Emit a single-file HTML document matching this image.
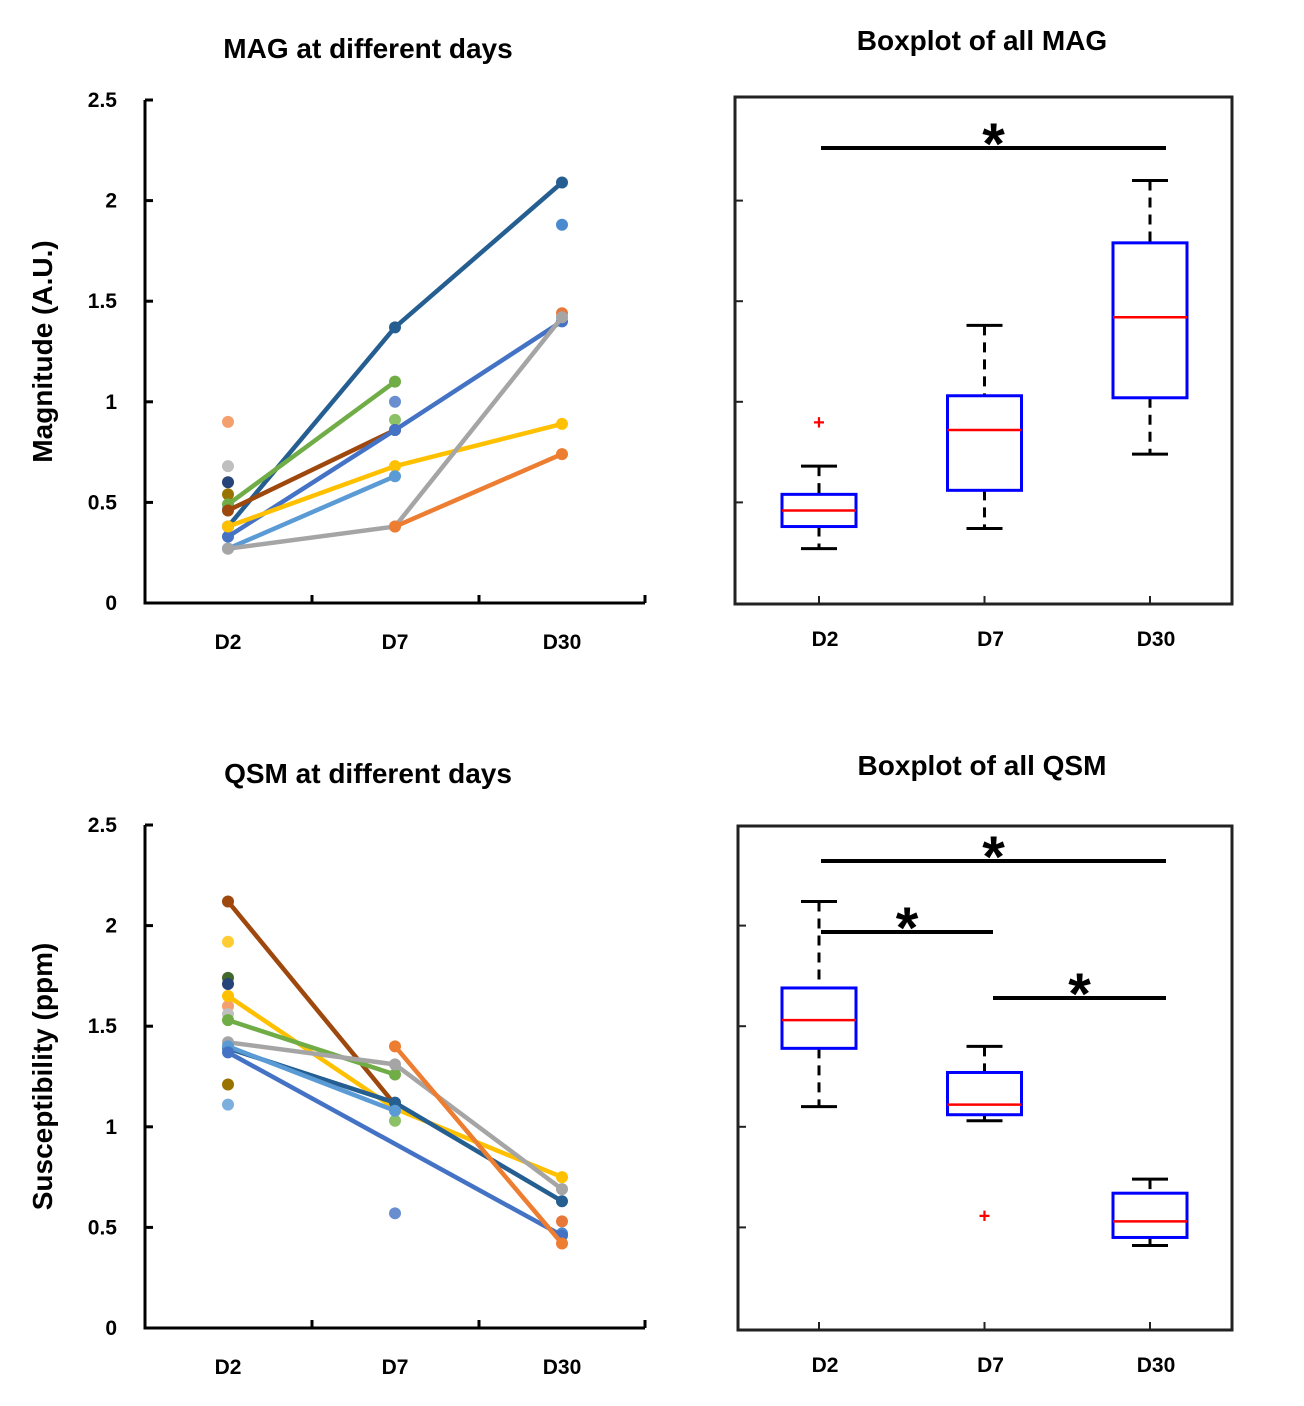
<!DOCTYPE html>
<html><head><meta charset="utf-8"><style>
body{margin:0;background:#fff;}
svg{display:block;font-family:"Liberation Sans",sans-serif;font-weight:bold;}
</style></head><body>
<svg id="c" width="1304" height="1406"></svg>
<script>
const days=["D2","D7","D30"];
const yTicks=[0,0.5,1,1.5,2,2.5];
const yTickLabels=["0","0.5","1","1.5","2","2.5"];
const magColors=["#255e91","#70ad47","#9e480e","#4472c4","#ffc000","#5b9bd5","#a5a5a5","#ed7d31"];
const magD2=[0.38,0.49,0.46,0.33,0.38,0.27,0.27,null];
const magD7=[1.37,1.10,0.86,0.86,0.68,0.63,0.38,0.38];
const magD30=[2.09,null,null,1.40,0.89,null,1.42,0.74];
const magExtraDay=[0,0,0,0,0,1,1,2,2];
const magExtraVal=[0.90,0.68,0.60,0.54,0.47,1.00,0.91,1.88,1.44];
const magExtraCol=["#f4a06e","#bfbfbf","#264478","#997300","#7cafdd","#698ed0","#8cc168","#4a8bd0","#e8783a"];
const qsmColors=["#9e480e","#ffc000","#70ad47","#a5a5a5","#255e91","#5b9bd5","#4472c4","#ed7d31"];
const qsmD2=[2.12,1.65,1.53,1.42,1.39,1.40,1.37,null];
const qsmD7=[1.11,1.09,1.26,1.31,1.12,1.08,null,1.40];
const qsmD30=[null,0.75,null,0.69,0.63,null,0.46,0.42];
const qsmExtraDay=[0,0,0,0,0,0,0,1,1,2,2];
const qsmExtraVal=[1.92,1.74,1.71,1.60,1.56,1.21,1.11,0.57,1.03,0.53,0.47];
const qsmExtraCol=["#ffcd33","#43682b","#264478","#f4a06e","#bfbfbf","#997300","#7cafdd","#698ed0","#8cc168","#e8783a","#4a8bd0"];
const magBoxLo=[0.27,0.37,0.74],magBoxQ1=[0.38,0.56,1.02],magBoxMed=[0.46,0.86,1.42],magBoxQ3=[0.54,1.03,1.79],magBoxHi=[0.68,1.38,2.10];
const magOutDay=[0],magOutVal=[0.90];
const qsmBoxLo=[1.10,1.03,0.41],qsmBoxQ1=[1.39,1.06,0.45],qsmBoxMed=[1.53,1.11,0.53],qsmBoxQ3=[1.69,1.27,0.67],qsmBoxHi=[2.12,1.40,0.74];
const qsmOutDay=[1],qsmOutVal=[0.56];

const NS="http://www.w3.org/2000/svg",svg=document.getElementById('c');
function el(t,a,txt){const e=document.createElementNS(NS,t);for(const k in a)e.setAttribute(k,a[k]);if(txt!=null)e.textContent=txt;svg.appendChild(e);return e;}
function text(x,y,s,size,anchor,name,rot){const e=el('text',{x:x,y:y,'font-size':size,'text-anchor':anchor||'middle',fill:'#000'},s);if(rot)e.setAttribute('transform',`rotate(-90 ${x} ${y})`);

return e;}

function lineChart(y0,title,ytitle,cols,d2,d7,d30,exD,exV,exC,pref){
  const X=i=>228+i*167, Y=v=>y0-v*201.2;
  text(368,y0-545,title,28,'middle',pref+'-title');
  text(52,Y(1.25),ytitle,28,'middle',pref+'-y-axis-title',true);
  let a=el('path',{d:`M145 ${Y(2.5)}V${y0}H645`,stroke:'#000','stroke-width':3,fill:'none'});
  
  yTicks.forEach((v,i)=>{const t=el('line',{x1:145,x2:153,y1:Y(v),y2:Y(v),stroke:'#000','stroke-width':3});
    
    text(117,Y(v)+7,yTickLabels[i],21,'end','y-tick-label');});
  [312,479,645].forEach(x=>{const t=el('line',{x1:x,x2:x,y1:y0,y2:y0-8,stroke:'#000','stroke-width':3});});
  days.forEach((d,i)=>text(X(i),y0+46,d,21,'middle','x-tick-label'));
  exD.forEach((d,i)=>{const c=el('circle',{cx:X(d),cy:Y(exV[i]),r:6,fill:exC[i]});
    });
  cols.forEach((c,i)=>{const vals=[d2[i],d7[i],d30[i]];const pts=[];vals.forEach((v,j)=>{if(v!=null)pts.push([X(j),Y(v)]);});
    const p=el('polyline',{points:pts.map(p=>p.join(',')).join(' '),stroke:c,'stroke-width':4.5,fill:'none'});
    
    pts.forEach(q=>{const m=el('circle',{cx:q[0],cy:q[1],r:6,fill:c});
      });});
}
function boxChart(y0,fx0,fy0,fx1,fy1,title,ty,lo,q1,md,q3,hi,oD,oV,sig,pref){
  const X=i=>819+i*165.5, Y=v=>y0-v*201.2;
  text(982,ty,title,28,'middle',pref+'-title');
  const f=el('rect',{x:fx0,y:fy0,width:fx1-fx0,height:fy1-fy0,fill:'none',stroke:'#222','stroke-width':3});
  
  [0.5,1,1.5,2].forEach(v=>{const t=el('line',{x1:fx0,x2:fx0+8,y1:Y(v),y2:Y(v),stroke:'#222','stroke-width':2});});
  days.forEach((d,i)=>{const t=el('line',{x1:X(i),x2:X(i),y1:fy1,y2:fy1-8,stroke:'#222','stroke-width':2});
    text(X(i)+6,fy1+42,d,21,'middle','x-tick-label');
    const g=[];
    g.push(el('line',{x1:X(i),x2:X(i),y1:Y(hi[i]),y2:Y(q3[i]),stroke:'#000','stroke-width':3,'stroke-dasharray':'10,7'}));
    g.push(el('line',{x1:X(i),x2:X(i),y1:Y(q1[i]),y2:Y(lo[i]),stroke:'#000','stroke-width':3,'stroke-dasharray':'10,7'}));
    g.push(el('line',{x1:X(i)-18,x2:X(i)+18,y1:Y(hi[i]),y2:Y(hi[i]),stroke:'#000','stroke-width':3}));
    g.push(el('line',{x1:X(i)-18,x2:X(i)+18,y1:Y(lo[i]),y2:Y(lo[i]),stroke:'#000','stroke-width':3}));
    g.forEach(e=>{});
    const b=el('rect',{x:X(i)-37,y:Y(q3[i]),width:74,height:Y(q1[i])-Y(q3[i]),fill:'#fff',stroke:'#0000ff','stroke-width':3});
    
    const m=el('line',{x1:X(i)-37,x2:X(i)+37,y1:Y(md[i]),y2:Y(md[i]),stroke:'#ff0000','stroke-width':2.5});
    });
  oD.forEach((d,i)=>{const o=el('text',{x:X(d),y:Y(oV[i])+7,'font-size':20,'text-anchor':'middle',fill:'#ff0000'},'+');
    });
  sig.forEach(s=>{const l=el('line',{x1:s[0],x2:s[1],y1:s[2],y2:s[2],stroke:'#000','stroke-width':4});
    
    text((s[0]+s[1])/2,s[2]+16,'*',58,'middle','significance-star');});
}
lineChart(603,"MAG at different days","Magnitude (A.U.)",magColors,magD2,magD7,magD30,magExtraDay,magExtraVal,magExtraCol,'mag');
lineChart(1328,"QSM at different days","Susceptibility (ppm)",qsmColors,qsmD2,qsmD7,qsmD30,qsmExtraDay,qsmExtraVal,qsmExtraCol,'qsm');
boxChart(603,735,97,1232,604,"Boxplot of all MAG",50,magBoxLo,magBoxQ1,magBoxMed,magBoxQ3,magBoxHi,magOutDay,magOutVal,[[821,1166,148]],'mag-box');
boxChart(1328,738,826,1232,1330,"Boxplot of all QSM",775,qsmBoxLo,qsmBoxQ1,qsmBoxMed,qsmBoxQ3,qsmBoxHi,qsmOutDay,qsmOutVal,[[821,1166,861],[821,993,932],[993,1166,998]],'qsm-box');
</script>
</body></html>
